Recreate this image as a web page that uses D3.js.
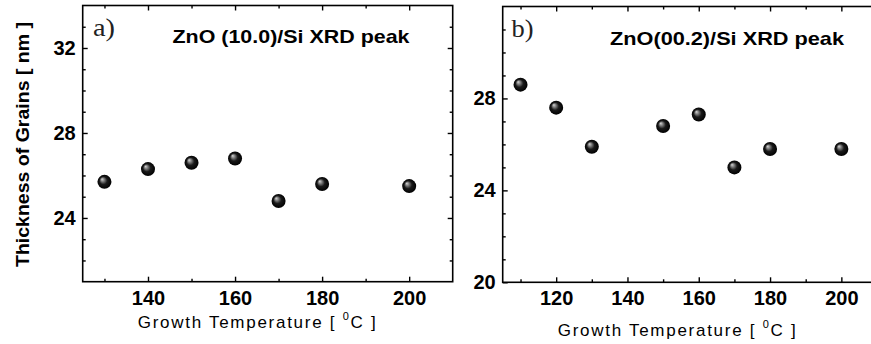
<!DOCTYPE html>
<html>
<head>
<meta charset="utf-8">
<script src="https://cdn.jsdelivr.net/npm/d3@7"></script>
<style>
  html, body { margin: 0; padding: 0; background: #fff; }
  svg { display: block; }
  .tick text { fill: #000 !important; }
</style>
</head>
<body>
<svg id="chart" width="871" height="344"></svg>
<script>
// ---- data ----
const tempsA = [130, 140, 150, 160, 170, 180, 200];
const grainA = [25.7, 26.3, 26.6, 26.8, 24.8, 25.6, 25.5];
const tempsB = [110, 120, 130, 150, 160, 170, 180, 200];
const grainB = [28.6, 27.6, 25.9, 26.8, 27.3, 25.0, 25.8, 25.8];

const xTicksA = [140, 160, 180, 200];
const xMinorA = [130, 150, 170, 190];
const yTicksA = [24, 28, 32];
const yMinorA = [22, 23, 25, 26, 27, 29, 30, 31, 33];

const xTicksB = [120, 140, 160, 180, 200];
const xMinorB = [110, 130, 150, 170, 190];
const yTicksB = [20, 24, 28];
const yMinorB = [21, 22, 23, 25, 26, 27, 29, 30, 31];

const titleA = "ZnO (10.0)/Si XRD peak";
const titleB = "ZnO(00.2)/Si XRD peak";
const letterA = "a)";
const letterB = "b)";
const yTitle = "Thickness of Grains [ nm ]";

const svg = d3.select("#chart");

const defs = svg.append("defs");
const grad = defs.append("radialGradient")
  .attr("id", "sphere").attr("cx", "50%").attr("cy", "50%").attr("r", "50%")
  .attr("fx", "32%").attr("fy", "30%");
grad.append("stop").attr("offset", "0%").attr("stop-color", "#d8d8d8");
grad.append("stop").attr("offset", "22%").attr("stop-color", "#8a8a8a");
grad.append("stop").attr("offset", "55%").attr("stop-color", "#1a1a1a");
grad.append("stop").attr("offset", "100%").attr("stop-color", "#000");

function panel(cfg) {
  const x = d3.scaleLinear().domain(cfg.xDomain).range([cfg.left, cfg.right]);
  const y = d3.scaleLinear().domain(cfg.yDomain).range([cfg.bottom, cfg.top]);
  const g = svg.append("g");

  const font = "'Liberation Sans', Arial, sans-serif";

  g.append("g").attr("transform", `translate(0,${cfg.bottom})`)
    .call(d3.axisBottom(x).tickValues(cfg.xTicks).tickSize(-5).tickPadding(9).tickFormat(d3.format("d")));
  g.append("g").attr("transform", `translate(0,${cfg.bottom})`)
    .call(d3.axisBottom(x).tickValues(cfg.xMinor).tickSize(-3).tickFormat(""));
  g.append("g").attr("transform", `translate(0,${cfg.top})`)
    .call(d3.axisTop(x).tickValues(cfg.xTicks).tickSize(-5).tickFormat(""));
  g.append("g").attr("transform", `translate(0,${cfg.top})`)
    .call(d3.axisTop(x).tickValues(cfg.xMinor).tickSize(-3).tickFormat(""));
  g.append("g").attr("transform", `translate(${cfg.left},0)`)
    .call(d3.axisLeft(y).tickValues(cfg.yTicks).tickSize(-5).tickPadding(7).tickFormat(d3.format("d")));
  g.append("g").attr("transform", `translate(${cfg.left},0)`)
    .call(d3.axisLeft(y).tickValues(cfg.yMinor).tickSize(-3).tickFormat(""));
  g.append("g").attr("transform", `translate(${cfg.right},0)`)
    .call(d3.axisRight(y).tickValues(cfg.yTicks).tickSize(-5).tickFormat(""));
  g.append("g").attr("transform", `translate(${cfg.right},0)`)
    .call(d3.axisRight(y).tickValues(cfg.yMinor).tickSize(-3).tickFormat(""));

  g.selectAll(".domain").remove();
  g.selectAll(".tick line").attr("stroke", "#000").attr("stroke-width", 1.4);
  g.selectAll(".tick text").attr("fill", "#000")
    .style("font-family", font).style("font-weight", "bold").style("font-size", "20px");

  g.append("rect")
    .attr("x", cfg.left).attr("y", cfg.top)
    .attr("width", cfg.right - cfg.left).attr("height", cfg.bottom - cfg.top)
    .attr("fill", "none").attr("stroke", "#000").attr("stroke-width", 1.6);

  g.append("g").selectAll("circle").data(cfg.xs)
    .join("circle")
    .attr("cx", (d) => x(d))
    .attr("cy", (d, i) => y(cfg.ys[i]))
    .attr("r", 7)
    .attr("fill", "url(#sphere)");

  g.append("text").attr("x", cfg.letterX).attr("y", cfg.letterY)
    .attr("textLength", 22).attr("lengthAdjust", "spacingAndGlyphs")
    .style("font-family", "'Liberation Serif', 'Times New Roman', serif")
    .style("font-size", "25px").attr("fill", "#222").text(cfg.letter);

  g.append("text").attr("x", cfg.titleX).attr("y", cfg.titleY)
    .attr("textLength", cfg.titleW).attr("lengthAdjust", "spacingAndGlyphs")
    .style("font-family", font).style("font-weight", "bold").style("font-size", "19px")
    .attr("fill", "#000").text(cfg.title);

  const xt = g.append("text").attr("x", cfg.xtX).attr("y", cfg.xtY)
    .attr("textLength", cfg.xtW).attr("lengthAdjust", "spacing")
    .style("font-family", font).style("font-size", "17px").attr("fill", "#000");
  xt.append("tspan").text("Growth Temperature [ ");
  xt.append("tspan").attr("dy", -8).style("font-size", "11px").text("0");
  xt.append("tspan").attr("dy", 8).text("C ]");
}

panel({
  xDomain: [125, 210], yDomain: [21, 34],
  left: 82.7, right: 452.7, top: 5.5, bottom: 281.7,
  xTicks: xTicksA, xMinor: xMinorA, yTicks: yTicksA, yMinor: yMinorA,
  xs: tempsA, ys: grainA,
  letter: letterA, letterX: 93, letterY: 36,
  title: titleA, titleX: 172.5, titleY: 43, titleW: 237,
  xtX: 137.7, xtY: 328, xtW: 238
});

panel({
  xDomain: [105, 210], yDomain: [20, 32],
  left: 502.7, right: 877, top: 6.5, bottom: 282.3,
  xTicks: xTicksB, xMinor: xMinorB, yTicks: yTicksB, yMinor: yMinorB,
  xs: tempsB, ys: grainB,
  letter: letterB, letterX: 511.5, letterY: 37,
  title: titleB, titleX: 610, titleY: 45, titleW: 234,
  xtX: 557.7, xtY: 336, xtW: 238
});

svg.append("text")
  .attr("transform", "translate(29,144.5) rotate(-90)")
  .attr("text-anchor", "middle")
  .attr("textLength", 245).attr("lengthAdjust", "spacingAndGlyphs")
  .style("font-family", "'Liberation Sans', Arial, sans-serif")
  .style("font-weight", "bold").style("font-size", "18px")
  .attr("fill", "#000").text(yTitle);
</script>
</body>
</html>
